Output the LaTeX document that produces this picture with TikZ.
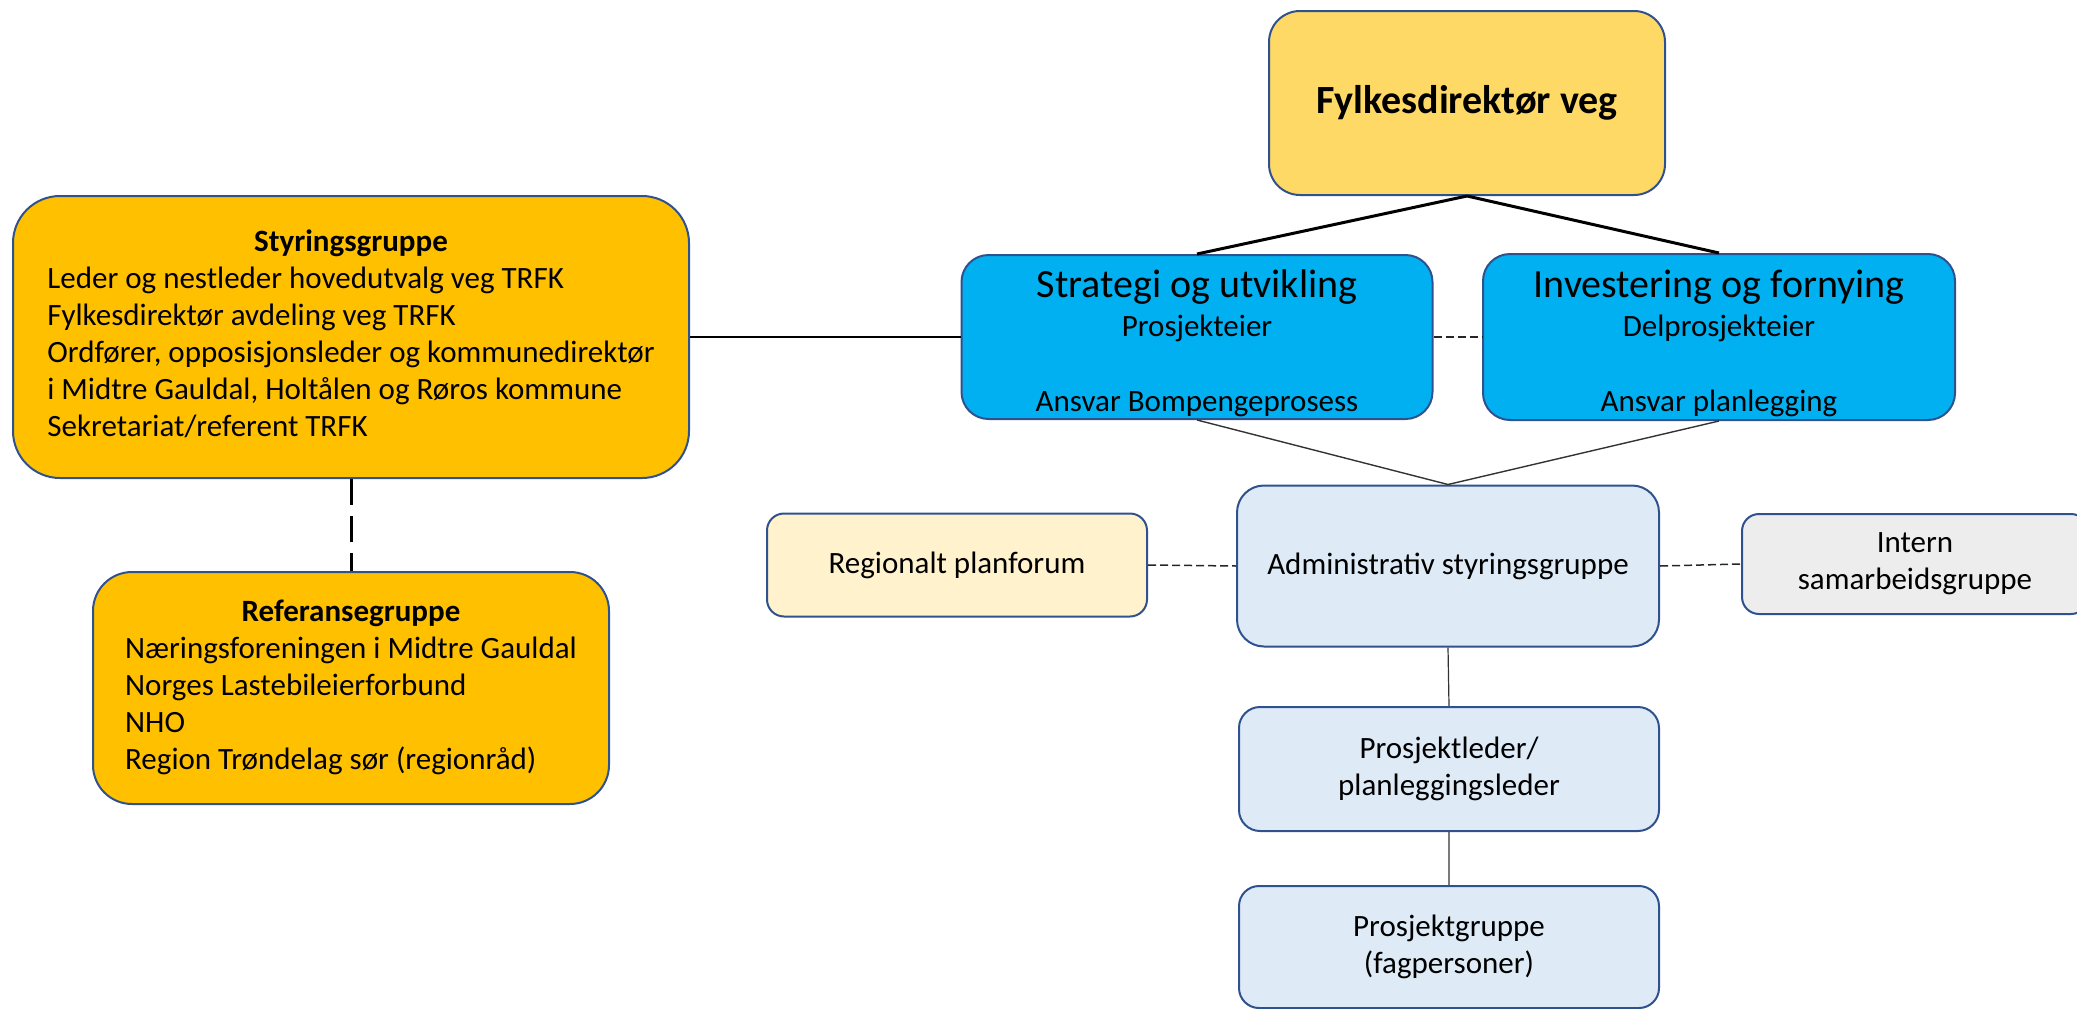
\documentclass[tikz,border=0pt]{standalone}
\usepackage{fontspec}
\setmainfont{Carlito}
\definecolor{kant}{HTML}{2F528F}
\definecolor{lysgul}{HTML}{FFD966}
\definecolor{gul}{HTML}{FFC000}
\definecolor{bla}{HTML}{00B0F0}
\definecolor{kremgul}{HTML}{FFF2CC}
\definecolor{lysbla}{HTML}{DEEBF7}
\definecolor{gra}{HTML}{EDEDED}
\begin{document}
\begin{tikzpicture}[x=1pt,y=-1pt,line join=round,
	boks/.style={draw=kant,line width=2pt,align=center,inner sep=0pt,font=\fontsize{31}{37}\selectfont},
	linje/.style={line width=1.4pt,black!80},
	stiplet/.style={line width=1.5pt,black!85,dash pattern=on 8pt off 4pt}]
	\useasboundingbox (0,0) rectangle (2077,1009);
	% toppen
	\node[boks,fill=lysgul,minimum width=396pt,minimum height=184pt,rounded corners=31pt,font=\bfseries\fontsize{40}{48}\selectfont] (fylk) at (1467,103) {Fylkesdirektør veg};
	\node[boks,fill=bla,minimum width=471pt,minimum height=164pt,rounded corners=27pt] (strat) at (1197,337)
		{\rule{0pt}{40pt}{\fontsize{40}{44}\selectfont Strategi og utvikling}\\[2pt] Prosjekteier\\[38pt] Ansvar Bompengeprosess};
	\node[boks,fill=bla,minimum width=472pt,minimum height=166pt,rounded corners=27pt] (inv) at (1719,337)
		{\rule{0pt}{40pt}{\fontsize{40}{44}\selectfont Investering og fornying}\\[2pt] Delprosjekteier\\[38pt] Ansvar planlegging};
	% venstre side
	\node[boks,fill=gul,minimum width=676pt,minimum height=282pt,rounded corners=47pt] (styr) at (351,337)
		{\begin{tabular}{@{}l@{}}
			\multicolumn{1}{@{}c@{}}{\bfseries Styringsgruppe}\\
			Leder og nestleder hovedutvalg veg TRFK\\
			Fylkesdirektør avdeling veg TRFK\\
			Ordfører, opposisjonsleder og kommunedirektør\\
			i Midtre Gauldal, Holtålen og Røros kommune\\
			Sekretariat/referent TRFK
		\end{tabular}};
	\node[boks,fill=gul,minimum width=516pt,minimum height=232pt,rounded corners=39pt] (ref) at (351,688)
		{\begin{tabular}{@{}l@{}}
			\multicolumn{1}{@{}c@{}}{\bfseries Referansegruppe}\\
			Næringsforeningen i Midtre Gauldal\\
			Norges Lastebileierforbund\\
			NHO\\
			Region Trøndelag sør (regionråd)
		\end{tabular}};
	% administrativt nivaa
	\node[boks,fill=lysbla,minimum width=422pt,minimum height=161pt,rounded corners=27pt] (adm) at (1448,566) {Administrativ styringsgruppe};
	\node[boks,fill=kremgul,minimum width=380pt,minimum height=103pt,rounded corners=17pt] (reg) at (957,565) {Regionalt planforum};
	\node[boks,fill=gra,minimum width=346pt,minimum height=100pt,rounded corners=17pt] (intern) at (1915,564) {Intern\\samarbeidsgruppe};
	\node[boks,fill=lysbla,minimum width=420pt,minimum height=124pt,rounded corners=21pt] (pl) at (1449,769) {Prosjektleder/\\planleggingsleder};
	\node[boks,fill=lysbla,minimum width=420pt,minimum height=122pt,rounded corners=20pt] (pg) at (1449,947) {Prosjektgruppe\\(fagpersoner)};
	% linjer
	\draw[line width=3pt] (fylk.south)--(strat.north) (fylk.south)--(inv.north);
	\draw[line width=2.4pt] (styr.east)--(strat.west);
	\draw[line width=3pt,dash pattern=on 26pt off 11pt] (styr.south)--(ref.north);
	\draw[stiplet] (strat.east)--(inv.west);
	\draw[linje] (strat.south)--(adm.north) (inv.south)--(adm.north);
	\draw[stiplet] (reg.east)--(adm.west) (adm.east)--(intern.west);
	\draw[linje,line width=1.2pt] (adm.south)--(pl.north) (pl.south)--(pg.north);
\end{tikzpicture}
\end{document}
